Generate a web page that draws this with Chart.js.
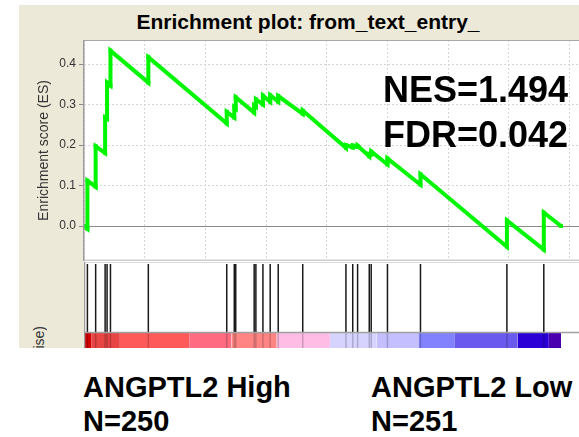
<!DOCTYPE html>
<html>
<head>
<meta charset="utf-8">
<script src="https://cdn.jsdelivr.net/npm/chart.js@4.4.1/dist/chart.umd.min.js"></script>
<style>
  html, body { margin: 0; padding: 0; background: #fff; }
  body { width: 579px; height: 437px; position: relative; overflow: hidden;
         font-family: "Liberation Sans", Arial, sans-serif; }
  #panel { position: absolute; left: 19px; top: 5px; width: 560px; height: 343px;
           background: #ece9d8; overflow: hidden; }
  #plot-bg { position: absolute; left: 65px; top: 35px; width: 495px; height: 308px; background: #fff; }
  #es { position: absolute; left: 0; top: 35px; }
  #hits { position: absolute; left: 65px; top: 257px; }
  #metric { position: absolute; left: 12px; top: 321px; writing-mode: vertical-rl;
            transform: rotate(180deg); font-size: 14px; line-height: 16px; color: #333; white-space: nowrap; }
  .txt { position: absolute; font-weight: bold; color: #000; white-space: nowrap; }
  #title { left: 108px; width: 400px; top: 11px; text-align: center; font-size: 21px; line-height: 21px; }
  .stat { left: 383px; font-size: 36px; line-height: 36px; }
  .group { font-size: 29px; line-height: 29px; }
</style>
</head>
<body>
<div id="panel">
  <div id="plot-bg"></div>
  <canvas id="es" width="560" height="221"></canvas>
  <canvas id="hits" width="495" height="86"></canvas>
  <div id="metric">Ranked list metric (Signal2Noise)</div>
</div>
<div class="txt" id="title">Enrichment plot: from_text_entry_</div>
<div class="txt stat" style="top:72px">NES=1.494</div>
<div class="txt stat" style="top:117px">FDR=0.042</div>
<div class="txt group" style="left:83px; top:373px">ANGPTL2 High</div>
<div class="txt group" style="left:83px; top:407px">N=250</div>
<div class="txt group" style="left:371px; top:373px">ANGPTL2 Low</div>
<div class="txt group" style="left:371px; top:407px">N=251</div>
<script>
// ---- Data ---------------------------------------------------------------

const XMAX = 20390;          // right edge of the visible plot, in gene ranks
const Y_MIN = -0.0864;
const Y_MAX = 0.4593;

const xGrid = [0, 2500, 5000, 7500, 10000, 12500, 15000, 17500, 20000];
const yTicks = [0.0, 0.1, 0.2, 0.3, 0.4];

// running enrichment score: curve vertices (rank, ES); a hit is a vertical step
const esRank = [
    0, 140, 140, 480, 480, 870, 870, 950, 950, 1090, 1090, 2650, 2650,
    5880, 5880, 6190, 6190, 6250, 6250, 7010, 7010, 7080, 7080, 7370, 7370,
    7670, 7670, 8000, 8000, 9010, 9010, 10790, 10790, 11070, 11070, 11270, 11270,
    11750, 11750, 11830, 11830, 12500, 12500, 13860, 13860, 17420, 17420,
    18940, 18940, 19650,
];
const esValue = [
    0.000, -0.007, 0.112, 0.097, 0.197, 0.180, 0.268, 0.265, 0.354, 0.347, 0.433, 0.354, 0.417,
    0.253, 0.282, 0.268, 0.293, 0.290, 0.318, 0.280, 0.298, 0.295, 0.313, 0.300, 0.322,
    0.307, 0.323, 0.307, 0.321, 0.277, 0.285, 0.193, 0.200, 0.194, 0.199, 0.195, 0.198,
    0.172, 0.178, 0.177, 0.184, 0.152, 0.167, 0.102, 0.128, -0.051, 0.014,
    -0.058, 0.033, 0.000,
];

// ranks of the gene-set members
const hitRank = [
    140, 480, 870, 950, 1090, 2650, 5880, 6190, 6250, 7010, 7080, 7370, 7670,
    8000, 9010, 10790, 11070, 11270, 11750, 11830, 12500, 13860, 17420, 18940,
];

// ranked list metric colour bar: segment edges and colours
const barEdge = [0, 320, 1480, 4330, 6080, 7940, 10130, 12060, 13770, 15280, 17850, 19150, 19650];
const barColor = [
    '#d40000', '#e84545', '#ff5a5a', '#ff6b80', '#ff8585', '#ffbde6',
    '#d6d4ff', '#c4bfff', '#8282ff', '#6a5aee', '#2a00d6', '#4b00b0',
];

// ---- Layout constants (lower strip, 0..1 of its height) ------------------

const BAR_TOP = 15 / 86;
const HIT_TOP = 84 / 86;

Chart.defaults.font.family = '"Liberation Sans", Arial, sans-serif';

const pts = (xs, ys) => xs.map((x, i) => ({ x, y: ys[i] }));

// ---- Chart frames -------------------------------------------------------

function line(ctx, x0, y0, x1, y1, color, width) {
    ctx.save();
    ctx.setLineDash([]);
    ctx.strokeStyle = color;
    ctx.lineWidth = width;
    ctx.beginPath();
    ctx.moveTo(x0, y0);
    ctx.lineTo(x1, y1);
    ctx.stroke();
    ctx.restore();
}

const frameEs = {
    id: 'frameEs',
    afterDraw(chart) {
        const { ctx, chartArea: a } = chart;
        line(ctx, a.left, a.top + 0.5, a.right, a.top + 0.5, '#a8a8a8', 1);
        line(ctx, a.left, a.bottom - 0.5, a.right, a.bottom - 0.5, '#cfcfcf', 2);
        line(ctx, a.left - 0.25, a.top, a.left - 0.25, a.bottom, '#9c9c9c', 1.5);
    },
};

const frameHits = {
    id: 'frameHits',
    afterDraw(chart) {
        const { ctx, chartArea: a, scales } = chart;
        const yb = scales.y.getPixelForValue(BAR_TOP);
        line(ctx, a.left, 0.5, a.right, 0.5, '#dcdcdc', 1);
        line(ctx, a.left, yb - 0.5, a.right, yb - 0.5, '#a0a0a0', 1.5);
        line(ctx, a.left + 0.5, a.top, a.left + 0.5, a.bottom, '#9c9c9c', 1.5);
    },
};

// ---- ES plot ------------------------------------------------------------

const isZero = (c) => c.tick && c.tick.value === 0;

new Chart(document.getElementById('es'), {
    type: 'line',
    data: {
        datasets: [{
            data: pts(esRank, esValue),
            borderColor: 'rgb(0,245,0)',
            borderWidth: 4,
            borderJoinStyle: 'miter',
            pointStyle: 'rect',
            pointRadius: 2.8,
            pointBorderWidth: 0,
            pointBackgroundColor: 'rgb(0,245,0)',
            tension: 0,
        }],
    },
    options: {
        responsive: false,
        animation: false,
        events: [],
        layout: { padding: 0, autoPadding: false },
        plugins: { legend: { display: false }, tooltip: { enabled: false } },
        scales: {
            x: {
                type: 'linear',
                min: 0,
                max: XMAX,
                afterBuildTicks: (s) => { s.ticks = xGrid.map(v => ({ value: v })); },
                afterFit: (s) => { s.height = 0; s.paddingLeft = 0; s.paddingRight = 0; },
                ticks: { display: false },
                grid: { color: '#d6d6d6', drawTicks: false },
                border: { display: false, dash: [2, 2] },
            },
            y: {
                min: Y_MIN,
                max: Y_MAX,
                afterBuildTicks: (s) => { s.ticks = yTicks.map(v => ({ value: v })); },
                afterFit: (s) => { s.width = 65; s.paddingTop = 0; s.paddingBottom = 0; },
                ticks: {
                    color: '#333',
                    font: { size: 12 },
                    padding: 3,
                    callback: (v) => Number(v).toFixed(1),
                },
                grid: {
                    color: (c) => isZero(c) ? '#8a8a8a' : '#d6d6d6',
                    tickColor: '#8a8a8a',
                    tickLength: 5,
                    tickBorderDash: [],
                },
                border: { display: false, dash: (c) => isZero(c) ? [] : [2, 2] },
                title: {
                    display: true,
                    text: 'Enrichment score (ES)',
                    color: '#333',
                    font: { size: 14 },
                    padding: { top: 17, bottom: 0 },
                },
            },
        },
    },
    plugins: [frameEs],
});

// ---- Hits + colour bar --------------------------------------------------

const hitSegments = (y0, y1) => hitRank.flatMap(r => [{ x: r, y: y0 }, { x: r, y: y1 }, { x: r, y: null }]);

new Chart(document.getElementById('hits'), {
    type: 'line',
    data: {
        datasets: [
            { data: hitSegments(BAR_TOP, HIT_TOP), borderColor: '#1a1a1a', borderWidth: 1.5, pointRadius: 0 },
            { data: hitSegments(0, BAR_TOP), borderColor: 'rgba(0,0,0,0.2)', borderWidth: 1.5, pointRadius: 0 },
            ...barColor.map((c, i) => ({
                data: [{ x: barEdge[i], y: BAR_TOP }, { x: barEdge[i + 1], y: BAR_TOP }],
                borderWidth: 0,
                pointRadius: 0,
                fill: 'start',
                backgroundColor: c,
            })),
        ],
    },
    options: {
        responsive: false,
        animation: false,
        events: [],
        layout: { padding: 0, autoPadding: false },
        plugins: { legend: { display: false }, tooltip: { enabled: false } },
        scales: {
            x: { type: 'linear', min: 0, max: XMAX, display: false },
            y: { min: 0, max: 1, display: false },
        },
    },
    plugins: [frameHits],
});
</script>
</body>
</html>
